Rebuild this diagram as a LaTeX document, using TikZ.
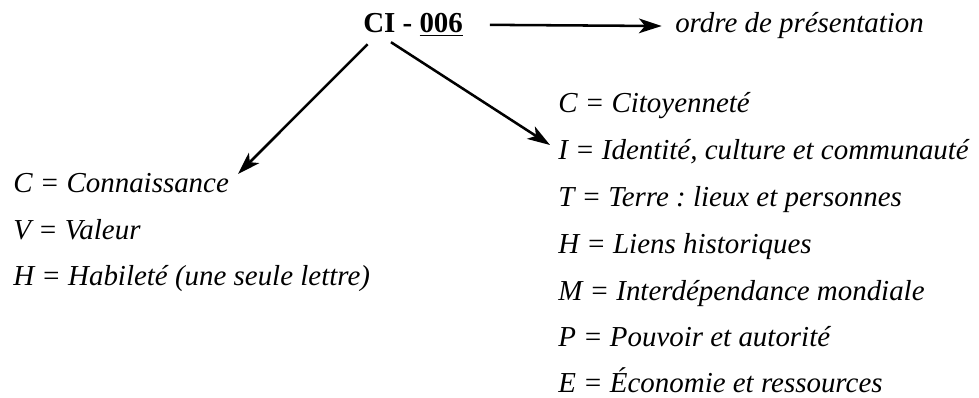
\documentclass[tikz,border=0pt]{standalone}
\usepackage{fontspec}
\setmainfont{Liberation Serif}[ItalicFont={Liberation Serif Italic},BoldFont={Liberation Serif Bold}]
\usetikzlibrary{arrows.meta}
\frenchspacing
\begin{document}
\begin{tikzpicture}[x=0.75pt,y=-0.75pt,
  lbl/.style={anchor=base west,inner sep=0pt,font=\fontsize{21.7}{26}\selectfont\itshape},
  ttl/.style={anchor=base west,inner sep=0pt,font=\fontsize{21.7}{26}\selectfont\bfseries},
  arr/.style={line width=1.9pt,-{Stealth[length=17pt,width=11pt,inset=4.5pt]}}]
\useasboundingbox (0,0) rectangle (979,398);
\node[ttl] (title) at (363,33) {CI - \underline{006}};
\node[lbl] (ordre) at (675,33) {ordre de présentation};
% left list
\node[lbl] (lc) at (13,193) {C = Connaissance};
\node[lbl] (lv) at (13,240) {V = Valeur};
\node[lbl] (lh) at (13,286) {H = Habileté (une seule lettre)};
% right list
\node[lbl] (rc) at (558,113) {C = Citoyenneté};
\node[lbl] (ri) at (558,160) {I = Identité, culture et communauté};
\node[lbl] (rt) at (558,207) {T = Terre : lieux et personnes};
\node[lbl] (rh) at (558,254) {H = Liens historiques};
\node[lbl] (rm) at (558,301) {M = Interdépendance mondiale};
\node[lbl] (rp) at (558,347) {P = Pouvoir et autorité};
\node[lbl] (re) at (558,393) {E = Économie et ressources};
% arrows
\draw[arr] ([xshift=20pt]title.east) -- ([xshift=-10pt]ordre.west);
\coordinate (ltip) at (238,174);
\coordinate (rtip) at (550,145);
\draw[arr] ([xshift=3.5pt,yshift=-6pt]title.south west) -- (ltip);
\draw[arr] ([xshift=21pt,yshift=-4.5pt]title.south west) -- (rtip);
\end{tikzpicture}
\end{document}
